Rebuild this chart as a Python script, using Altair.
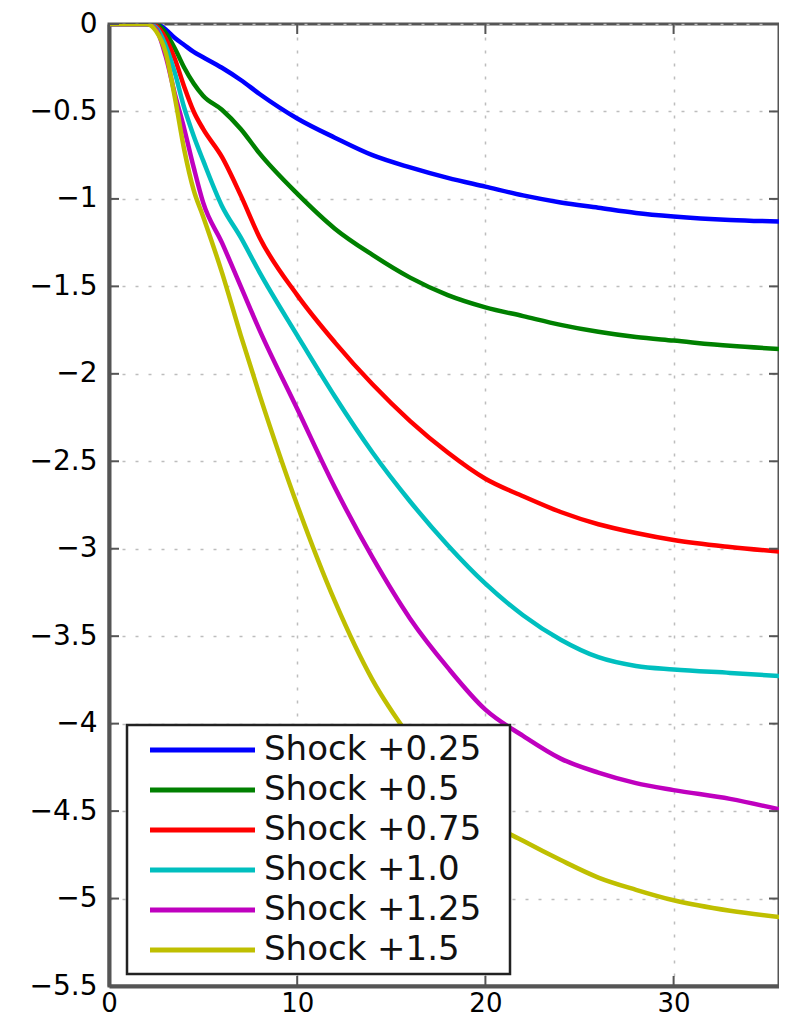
import altair as alt
import pandas as pd

# ---- data ----
t = [0, 2, 2.5, 3, 3.5, 4, 4.5, 5, 6, 7, 8, 10, 12, 14, 16, 18, 20, 22, 24, 26, 28, 30, 33, 36]
shock_025 = [0, 0, 0, -0.03, -0.08, -0.12, -0.16, -0.19, -0.25, -0.32, -0.40, -0.54, -0.65, -0.75, -0.82, -0.88, -0.93, -0.98, -1.02, -1.05, -1.08, -1.10, -1.12, -1.13]
shock_050 = [0, 0, 0, -0.05, -0.14, -0.25, -0.34, -0.41, -0.49, -0.60, -0.74, -0.97, -1.17, -1.32, -1.45, -1.55, -1.62, -1.67, -1.72, -1.76, -1.79, -1.81, -1.84, -1.86]
shock_075 = [0, 0, -0.01, -0.08, -0.20, -0.36, -0.50, -0.60, -0.76, -0.98, -1.22, -1.55, -1.82, -2.06, -2.27, -2.45, -2.60, -2.70, -2.79, -2.86, -2.91, -2.95, -2.99, -3.02]
shock_100 = [0, 0, -0.02, -0.12, -0.28, -0.48, -0.64, -0.78, -1.04, -1.22, -1.42, -1.78, -2.13, -2.45, -2.73, -2.98, -3.20, -3.38, -3.52, -3.62, -3.67, -3.69, -3.71, -3.73]
shock_125 = [0, 0, -0.03, -0.18, -0.40, -0.60, -0.82, -1.02, -1.25, -1.50, -1.75, -2.20, -2.65, -3.05, -3.40, -3.68, -3.92, -4.07, -4.20, -4.28, -4.34, -4.38, -4.43, -4.50]
shock_150 = [0, 0, -0.04, -0.16, -0.42, -0.72, -0.95, -1.10, -1.42, -1.78, -2.12, -2.75, -3.30, -3.75, -4.08, -4.35, -4.55, -4.67, -4.78, -4.88, -4.95, -5.01, -5.07, -5.11]

series_names = ["Shock +0.25", "Shock +0.5", "Shock +0.75", "Shock +1.0", "Shock +1.25", "Shock +1.5"]
series_values = [shock_025, shock_050, shock_075, shock_100, shock_125, shock_150]
series_colors = ["#0000ff", "#008000", "#ff0000", "#00bfbf", "#bf00bf", "#bfbf00"]

x_ticks = [0, 10, 20, 30]
y_ticks = [0, -0.5, -1, -1.5, -2, -2.5, -3, -3.5, -4, -4.5, -5, -5.5]

# ---- tables ----
rows = []
for name, vals in zip(series_names, series_values):
    for ti, v in zip(t, vals):
        rows.append({"t": ti, "v": v, "series": name})
df = pd.DataFrame(rows)
legend_df = pd.DataFrame({"series": series_names, "row": list(range(len(series_names)))})
xt_df = pd.DataFrame({"t": x_ticks})
yt_df = pd.DataFrame({"v": y_ticks})

W, H = 670, 962
AX = "#555555"
FONT = "DejaVu Sans"

xs = alt.Scale(domain=[0, 35.6], nice=False, zero=False)
ys = alt.Scale(domain=[-5.5, 0], nice=False, zero=False)
cs = alt.Scale(domain=series_names, range=series_colors)

x_axis = alt.Axis(values=x_ticks, title=None, grid=True, ticks=False, labelFlush=False,
                  labelOverlap=False, labelPadding=4, labelFontSize=26, labelFont=FONT,
                  labelColor="black", domainColor=AX, domainWidth=4,
                  gridColor="#bdbdbd", gridDash=[3, 10], gridWidth=1.5)
y_axis = alt.Axis(values=y_ticks, title=None, grid=True, ticks=False, format="~g",
                  labelOverlap=False, labelPadding=12, labelFontSize=28, labelFont=FONT,
                  labelColor="black", domainColor=AX, domainWidth=4,
                  gridColor="#bdbdbd", gridDash=[3, 10], gridWidth=1.5)

lines = alt.Chart(df).mark_line(strokeWidth=4.5, interpolate="monotone", clip=True).encode(
    x=alt.X("t:Q", scale=xs, axis=x_axis),
    y=alt.Y("v:Q", scale=ys, axis=y_axis),
    color=alt.Color("series:N", scale=cs, legend=None),
)

# inward tick marks (MATLAB style)
ytick_l = alt.Chart(yt_df).mark_rule(color=AX, strokeWidth=2).encode(
    y=alt.Y("v:Q", scale=ys, axis=None), x=alt.value(0), x2=alt.value(10))
ytick_r = alt.Chart(yt_df).mark_rule(color=AX, strokeWidth=2).encode(
    y=alt.Y("v:Q", scale=ys, axis=None), x=alt.value(W - 10), x2=alt.value(W))
xtick_b = alt.Chart(xt_df).mark_rule(color=AX, strokeWidth=2).encode(
    x=alt.X("t:Q", scale=xs, axis=x_axis), y=alt.value(H - 10), y2=alt.value(H))
xtick_t = alt.Chart(xt_df).mark_rule(color=AX, strokeWidth=2).encode(
    x=alt.X("t:Q", scale=xs, axis=x_axis), y=alt.value(0), y2=alt.value(10))

# legend box
leg_box = alt.Chart(pd.DataFrame({"k": [0]})).mark_rect(
    fill="white", stroke="#222222", strokeWidth=2.5).encode(
    x=alt.value(18), x2=alt.value(401), y=alt.value(701), y2=alt.value(950))

leg_base = alt.Chart(legend_df).transform_calculate(py="726 + datum.row * 40")
leg_lines = leg_base.mark_rule(strokeWidth=5).encode(
    x=alt.value(41), x2=alt.value(146),
    y=alt.Y("py:Q", scale=None, axis=None),
    color=alt.Color("series:N", scale=cs, legend=None))
leg_text = leg_base.mark_text(align="left", baseline="middle", font=FONT, fontSize=34,
                              color="#111111").encode(
    x=alt.value(155),
    y=alt.Y("py:Q", scale=None, axis=None),
    text="series:N")

chart = alt.layer(lines, ytick_l, ytick_r, xtick_b, xtick_t, leg_box, leg_lines, leg_text).resolve_scale(
    y="independent"
).properties(
    width=W, height=H,
    autosize=alt.AutoSizeParams(type="none"),
    padding={"left": 101, "top": 16, "right": 0, "bottom": 39},
).configure_view(stroke=AX, strokeWidth=3)

chart.save("out.html", embed_options={"renderer": "svg", "actions": False})
